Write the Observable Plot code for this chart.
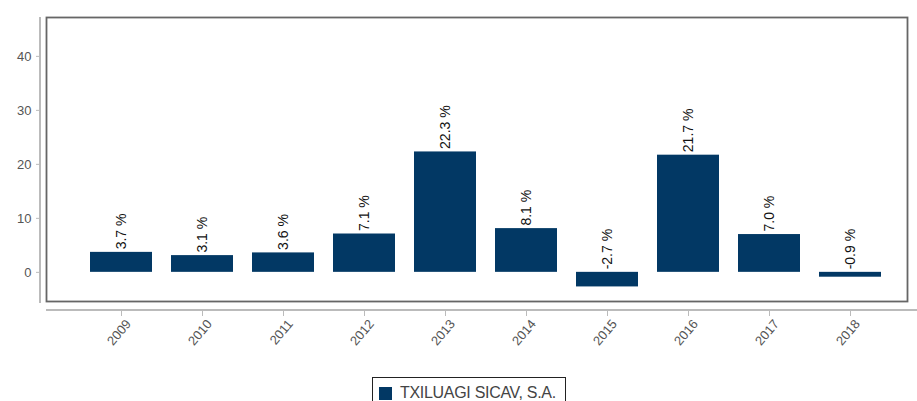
<!DOCTYPE html>
<html>
<head>
<meta charset="utf-8">
<script src="https://cdn.jsdelivr.net/npm/d3@7"></script>
<script src="https://cdn.jsdelivr.net/npm/@observablehq/plot@0.6"></script>
<style>
  body { margin: 0; background: #fff; font-family: "Liberation Sans", Arial, sans-serif; }
  #legend { position: absolute; left: 372px; top: 377px; width: 194px; box-sizing: border-box; border: 1.5px solid #222; padding: 6px 6px 6px 6px; display: flex; align-items: center; font-size: 16px; letter-spacing: -0.3px; color: #444; background: #fff; }
  #legend .sw { width: 13px; height: 13px; background: #023864; margin-right: 8px; flex: none; }
</style>
</head>
<body>
<div id="chart"></div>
<div id="legend"><span class="sw"></span><span id="legend-label"></span></div>
<script>
const years = ["2009","2010","2011","2012","2013","2014","2015","2016","2017","2018"];
const values = [3.7, 3.1, 3.6, 7.1, 22.3, 8.1, -2.7, 21.7, 7.0, -0.9];
const yTicks = [0, 10, 20, 30, 40];
const seriesName = "TXILUAGI SICAV, S.A.";

document.getElementById("legend-label").textContent = seriesName;

const data = years.map((y, i) => ({year: y, value: values[i]}));

const decorations = (index, scales, values, dims) => {
  const g = d3.create("svg:g");
  const top = dims.marginTop, bottom = dims.height - dims.marginBottom;
  const left = dims.marginLeft;
  // y axis line (detached to the left of the panel)
  g.append("line").attr("x1", left - 6).attr("x2", left - 6)
    .attr("y1", top).attr("y2", bottom + 2)
    .attr("stroke", "#bbb").attr("stroke-width", 2);
  // x axis line (detached below the panel)
  g.append("line").attr("x1", left).attr("x2", dims.width)
    .attr("y1", bottom + 9).attr("y2", bottom + 9)
    .attr("stroke", "#bbb").attr("stroke-width", 2);
  return g.node();
};

const chart = Plot.plot({
  width: 917,
  height: 370,
  marginTop: 17,
  marginLeft: 46,
  marginRight: 10,
  marginBottom: 69,
  style: {fontFamily: "Liberation Sans, Arial, sans-serif", background: "#fff"},
  x: {domain: years, range: [80.5, 890.5], paddingInner: 0.24, paddingOuter: 0.12},
  y: {domain: [-5.4, 47.2]},
  marks: [
    Plot.barY(data, {x: "year", y: "value", fill: "#023864"}),
    Plot.text(data, {
      x: "year",
      y: d => Math.max(0, d.value),
      text: d => d.value.toFixed(1) + " %",
      rotate: -90,
      textAnchor: "start",
      dy: -3,
      fontSize: 14,
      fill: "#111"
    }),
    Plot.frame({stroke: "#666", strokeWidth: 1.8}),
    decorations,
    Plot.axisY(yTicks, {
      dx: -6, tickSize: 4, tickPadding: 5, fontSize: 13, color: "#555", stroke: "#bbb", label: null
    }),
    // x tick marks only
    Plot.axisX({
      dy: 9, tickSize: 6, tickFormat: () => "", stroke: "#bbb", label: null
    }),
    // x tick labels only, rotated
    Plot.axisX({
      dy: 9, dx: 7, tickSize: 0, tickRotate: -50, tickPadding: 11, fontSize: 13, color: "#555", label: null
    })
  ]
});
document.getElementById("chart").appendChild(chart);
</script>
</body>
</html>
